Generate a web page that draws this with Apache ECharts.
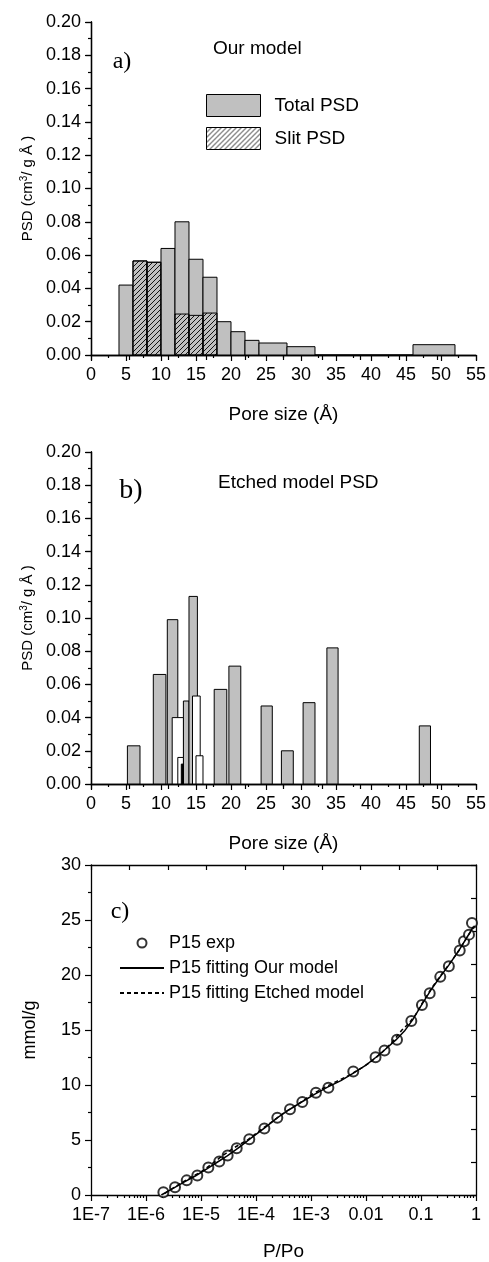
<!DOCTYPE html>
<html>
<head>
<meta charset="UTF-8" />
<title>PSD</title>
<script type="text/javascript" src="https://cdn.jsdelivr.net/npm/echarts@6.0.0/dist/echarts.min.js"></script>
<style>
  body { margin: 0; background: #fff; }
  #main { width: 489px; height: 1262px; }
</style>
</head>
<body>
<div id="main"></div>
<script>
// ---- panel a: our model (bins in Å, PSD in cm3/g/Å)
var aTotalLo  = [4, 6, 8, 10, 12, 14, 16, 18, 20, 22, 24, 28, 32, 46];
var aTotalHi  = [6, 8, 10, 12, 14, 16, 18, 20, 22, 24, 28, 32, 46, 52];
var aTotalVal = [0.042, 0.0565, 0.0557, 0.064, 0.080, 0.0575, 0.0467, 0.020, 0.014, 0.0088, 0.0072, 0.005, 0, 0.0062];
var aSlitLo   = [6, 8, 12, 14, 16];
var aSlitHi   = [8, 10, 14, 16, 18];
var aSlitVal  = [0.0565, 0.0557, 0.0246, 0.0238, 0.0252];

// ---- panel b: etched model
var bGrayLo  = [5.2, 8.9, 10.9, 13.2, 14.0, 17.6, 19.7, 24.3, 27.2, 30.3, 33.7, 46.9];
var bGrayHi  = [7.0, 10.7, 12.4, 14.0, 15.2, 19.4, 21.4, 25.9, 28.9, 32.0, 35.3, 48.5];
var bGrayVal = [0.023, 0.066, 0.099, 0.050, 0.113, 0.057, 0.071, 0.047, 0.020, 0.049, 0.082, 0.035];
var bOpenLo  = [11.6, 14.5, 12.4, 15.0];
var bOpenHi  = [13.2, 15.6, 13.2, 16.0];
var bOpenVal = [0.040, 0.053, 0.016, 0.017];
var bDarkLo  = [12.9];
var bDarkHi  = [13.2];
var bDarkVal = [0.012];

// ---- panel c: isotherm
var expP = [2.07e-6, 3.37e-6, 5.5e-6, 8.57e-6, 1.36e-5, 2.15e-5, 3.05e-5, 4.46e-5, 7.55e-5, 1.42e-4,
            2.44e-4, 4.15e-4, 6.95e-4, 1.23e-3, 2.07e-3, 5.87e-3, 0.0149, 0.0217, 0.0366, 0.0667,
            0.104, 0.144, 0.224, 0.321, 0.506, 0.605, 0.746, 0.845];
var expV = [0.24, 0.70, 1.33, 1.78, 2.50, 3.04, 3.59, 4.25, 5.06, 6.05,
            7.02, 7.80, 8.46, 9.30, 9.76, 11.23, 12.53, 13.13, 14.12, 15.81,
            17.27, 18.34, 19.83, 20.80, 22.22, 23.06, 23.67, 24.72];
var ourP = [1.9e-6, 3e-6, 5e-6, 8e-6, 1.3e-5, 2e-5, 3e-5, 5e-5, 8e-5, 1.4e-4, 2.5e-4, 4e-4, 7e-4, 1.2e-3, 2e-3,
            3.5e-3, 6e-3, 0.01, 0.015, 0.022, 0.035, 0.05, 0.07, 0.1, 0.15, 0.22, 0.32, 0.5, 0.7, 0.9];
var ourV = [0, 0.55, 1.2, 1.75, 2.4, 3.0, 3.55, 4.35, 5.15, 6.05, 7.05, 7.75, 8.5, 9.2, 9.8,
            10.4, 11.1, 11.8, 12.5, 13.2, 14.1, 14.9, 15.9, 17.2, 18.6, 19.8, 20.9, 22.3, 23.5, 24.4];
var etchP = [2.2e-6, 3.5e-6, 6e-6, 1e-5, 1.6e-5, 2.5e-5, 4e-5, 7e-5, 1.2e-4, 2e-4, 3.5e-4, 6e-4, 1e-3, 1.8e-3, 3e-3,
             5e-3, 8e-3, 0.013, 0.02, 0.03, 0.045, 0.06, 0.08, 0.11, 0.16, 0.24, 0.35, 0.5, 0.7, 0.95];
var etchV = [0.15, 0.8, 1.5, 2.1, 2.85, 3.6, 4.3, 5.0, 5.9, 6.7, 7.6, 8.3, 9.1, 9.8, 10.35,
             10.9, 11.5, 12.2, 13.0, 13.9, 15.0, 15.6, 16.4, 17.6, 18.9, 20.1, 21.2, 22.3, 23.5, 24.5];
var decades = [1e-7, 1e-6, 1e-5, 1e-4, 1e-3, 0.01, 0.1, 1];

var SANS = 'Liberation Sans';
var SERIF = 'Liberation Serif';

function rows(lo, hi, val) {
    var out = [];
    for (var i = 0; i < lo.length; i++) out.push([lo[i], hi[i], val[i]]);
    return out;
}
function pairs(xs, ys) {
    var out = [];
    for (var i = 0; i < xs.length; i++) out.push([xs[i], ys[i]]);
    return out;
}
// minor log ticks 2..9 of every decade
var logMinor = [];
for (var e = -7; e < 0; e++) {
    for (var k = 2; k <= 9; k++) logMinor.push(k * Math.pow(10, e));
}

// hatch pattern for slit PSD
var hatch = document.createElement('canvas');
hatch.width = 5; hatch.height = 5;
var hc = hatch.getContext('2d');
hc.strokeStyle = '#000';
hc.lineWidth = 0.9;
hc.beginPath();
hc.moveTo(0, 5); hc.lineTo(5, 0);
hc.moveTo(-1, 1); hc.lineTo(1, -1);
hc.moveTo(4, 6); hc.lineTo(6, 4);
hc.stroke();

function binRect(params, api) {
    var p0 = api.coord([api.value(0), api.value(2)]);
    var p1 = api.coord([api.value(1), 0]);
    return {
        type: 'rect',
        shape: { x: p0[0], y: p0[1], width: p1[0] - p0[0], height: p1[1] - p0[1] },
        style: api.style()
    };
}

var axLine = { show: true, lineStyle: { color: '#000', width: 1.3 } };

function bottomAxis(grid) {
    return {
        type: 'value', gridIndex: grid, position: 'bottom', min: 0, max: 55, interval: 5,
        name: 'Pore size (Å)', nameLocation: 'middle', nameGap: 50,
        nameTextStyle: { fontFamily: SANS, fontSize: 19, color: '#000' },
        axisLine: axLine,
        axisTick: { inside: false, length: 6, lineStyle: { color: '#000', width: 1.2 } },
        minorTick: { show: true, splitNumber: 2, length: 3, lineStyle: { color: '#000', width: 1.2 } },
        axisLabel: { margin: 11, fontFamily: SANS, fontSize: 18, color: '#000' },
        splitLine: { show: false }
    };
}
function topAxis(grid) {
    return {
        type: 'value', gridIndex: grid, position: 'top', min: 0, max: 10, interval: 1,
        axisLine: axLine,
        axisTick: { inside: true, length: 5, lineStyle: { color: '#000', width: 1.2 } },
        axisLabel: { show: false }, splitLine: { show: false }
    };
}
function rightAxis(grid, max, step) {
    return {
        type: 'value', gridIndex: grid, position: 'right', min: 0, max: max, interval: step,
        axisLine: axLine,
        axisTick: { inside: true, length: 5, lineStyle: { color: '#000', width: 1.2 } },
        axisLabel: { show: false }, splitLine: { show: false }
    };
}
function psdAxis(grid) {
    return {
        type: 'value', gridIndex: grid, position: 'left', min: 0, max: 0.2, interval: 0.02,
        name: 'PSD (cm{sup|3}/ g Å )', nameLocation: 'middle', nameGap: 55,
        nameTextStyle: {
            fontFamily: SANS, fontSize: 15, color: '#000',
            rich: { sup: { fontFamily: SANS, fontSize: 10, verticalAlign: 'top', padding: [0, 0, 7, 0] } }
        },
        axisLine: axLine,
        axisTick: { inside: false, length: 6, lineStyle: { color: '#000', width: 1.2 } },
        minorTick: { show: true, splitNumber: 2, length: 3, lineStyle: { color: '#000', width: 1.2 } },
        axisLabel: { margin: 10, fontFamily: SANS, fontSize: 18, color: '#000',
            formatter: function (v) { return v.toFixed(2); } },
        splitLine: { show: false }
    };
}

var noMarker = { color: 'rgba(0,0,0,0)', borderWidth: 0 };

var chart = echarts.init(document.getElementById('main'));
chart.setOption({
    animation: false,
    backgroundColor: '#fff',
    grid: [
        { left: 91, top: 22, width: 385, height: 333 },
        { left: 91, top: 452, width: 385, height: 332 },
        { left: 91, top: 865, width: 385, height: 332 }
    ],
    xAxis: [
        bottomAxis(0), topAxis(0),
        bottomAxis(1), topAxis(1),
        {
            type: 'log', gridIndex: 2, position: 'bottom', min: 1e-7, max: 1, logBase: 10,
            name: 'P/Po', nameLocation: 'middle', nameGap: 47,
            nameTextStyle: { fontFamily: SANS, fontSize: 19, color: '#000' },
            axisLine: axLine,
            axisTick: { inside: false, length: 6, customValues: decades, lineStyle: { color: '#000', width: 1.2 } },
            axisLabel: {
                margin: 11, fontFamily: SANS, fontSize: 18, color: '#000', customValues: decades,
                formatter: function (v) {
                    var p = Math.round(Math.log(v) / Math.LN10);
                    if (p >= -2) return p === 0 ? '1' : (p === -1 ? '0.1' : '0.01');
                    return '1E' + p;
                }
            },
            splitLine: { show: false }
        },
        {
            type: 'log', gridIndex: 2, position: 'bottom', min: 1e-7, max: 1, logBase: 10,
            axisLine: { show: false },
            axisTick: { inside: false, length: 3, customValues: logMinor, lineStyle: { color: '#000', width: 1.2 } },
            axisLabel: { show: false }, splitLine: { show: false }
        },
        topAxis(2)
    ],
    yAxis: [
        psdAxis(0), rightAxis(0, 10, 1),
        psdAxis(1), rightAxis(1, 10, 1),
        {
            type: 'value', gridIndex: 2, position: 'left', min: 0, max: 30, interval: 5,
            name: 'mmol/g', nameLocation: 'middle', nameGap: 52,
            nameTextStyle: { fontFamily: SANS, fontSize: 18, color: '#000' },
            axisLine: axLine,
            axisTick: { inside: false, length: 6, lineStyle: { color: '#000', width: 1.2 } },
            minorTick: { show: true, splitNumber: 2, length: 3, lineStyle: { color: '#000', width: 1.2 } },
            axisLabel: { margin: 10, fontFamily: SANS, fontSize: 18, color: '#000' },
            splitLine: { show: false }
        },
        rightAxis(2, 30, 3)
    ],
    legend: [
        {
            data: ['Total PSD', 'Slit PSD'], orient: 'vertical', left: 201, top: 89,
            icon: 'rect', itemWidth: 54, itemHeight: 22, itemGap: 10,
            itemStyle: { borderColor: '#000', borderWidth: 1 },
            textStyle: { fontFamily: SANS, fontSize: 19, color: '#000', padding: [0, 0, 0, 9] }
        },
        {
            data: [
                'P15 exp',
                { name: 'P15 fitting Our model', itemStyle: noMarker },
                { name: 'P15 fitting Etched model', itemStyle: noMarker }
            ],
            orient: 'vertical', left: 114, top: 928,
            itemWidth: 44, itemHeight: 9, itemGap: 5,
            textStyle: { fontFamily: SANS, fontSize: 18, color: '#000', lineHeight: 20 }
        }
    ],
    graphic: [
        { type: 'text', x: 122, y: 62, style: { text: 'a)', fontFamily: SERIF, fontSize: 24, fill: '#000', align: 'center', verticalAlign: 'middle' } },
        { type: 'text', x: 213, y: 49, style: { text: 'Our model', fontFamily: SANS, fontSize: 19, fill: '#000', align: 'left', verticalAlign: 'middle' } },
        { type: 'text', x: 131, y: 491, style: { text: 'b)', fontFamily: SERIF, fontSize: 28, fill: '#000', align: 'center', verticalAlign: 'middle' } },
        { type: 'text', x: 218, y: 483, style: { text: 'Etched model PSD', fontFamily: SANS, fontSize: 19, fill: '#000', align: 'left', verticalAlign: 'middle' } },
        { type: 'text', x: 120, y: 912, style: { text: 'c)', fontFamily: SERIF, fontSize: 24, fill: '#000', align: 'center', verticalAlign: 'middle' } }
    ],
    series: [
        {
            name: 'Total PSD', type: 'custom', xAxisIndex: 0, yAxisIndex: 0,
            renderItem: binRect, encode: { x: [0, 1], y: 2 },
            itemStyle: { color: '#c0c0c0', borderColor: '#000', borderWidth: 1 },
            data: rows(aTotalLo, aTotalHi, aTotalVal)
        },
        {
            name: 'Slit PSD', type: 'custom', xAxisIndex: 0, yAxisIndex: 0,
            renderItem: binRect, encode: { x: [0, 1], y: 2 },
            itemStyle: { color: { image: hatch, repeat: 'repeat' }, borderColor: '#000', borderWidth: 1 },
            data: rows(aSlitLo, aSlitHi, aSlitVal)
        },
        {
            name: 'Etched gray', type: 'custom', xAxisIndex: 2, yAxisIndex: 2,
            renderItem: binRect, encode: { x: [0, 1], y: 2 },
            itemStyle: { color: '#c0c0c0', borderColor: '#000', borderWidth: 1 },
            data: rows(bGrayLo, bGrayHi, bGrayVal)
        },
        {
            name: 'Etched open', type: 'custom', xAxisIndex: 2, yAxisIndex: 2,
            renderItem: binRect, encode: { x: [0, 1], y: 2 },
            itemStyle: { color: '#fff', borderColor: '#000', borderWidth: 1 },
            data: rows(bOpenLo, bOpenHi, bOpenVal)
        },
        {
            name: 'Etched dark', type: 'custom', xAxisIndex: 2, yAxisIndex: 2,
            renderItem: binRect, encode: { x: [0, 1], y: 2 },
            itemStyle: { color: '#000', borderColor: '#000', borderWidth: 1 },
            data: rows(bDarkLo, bDarkHi, bDarkVal)
        },
        {
            name: 'P15 fitting Our model', type: 'line', xAxisIndex: 4, yAxisIndex: 4,
            symbol: 'none', lineStyle: { color: '#000', width: 1.5 },
            itemStyle: { color: '#000' },
            data: pairs(ourP, ourV)
        },
        {
            name: 'P15 fitting Etched model', type: 'line', xAxisIndex: 4, yAxisIndex: 4,
            symbol: 'none', lineStyle: { color: '#000', width: 1.5, type: [4, 3] },
            itemStyle: { color: '#000' },
            data: pairs(etchP, etchV)
        },
        {
            name: 'P15 exp', type: 'scatter', xAxisIndex: 4, yAxisIndex: 4,
            symbol: 'emptyCircle', symbolSize: 10,
            itemStyle: { color: '#000', borderWidth: 1 },
            data: pairs(expP, expV)
        }
    ]
});
</script>
</body>
</html>
